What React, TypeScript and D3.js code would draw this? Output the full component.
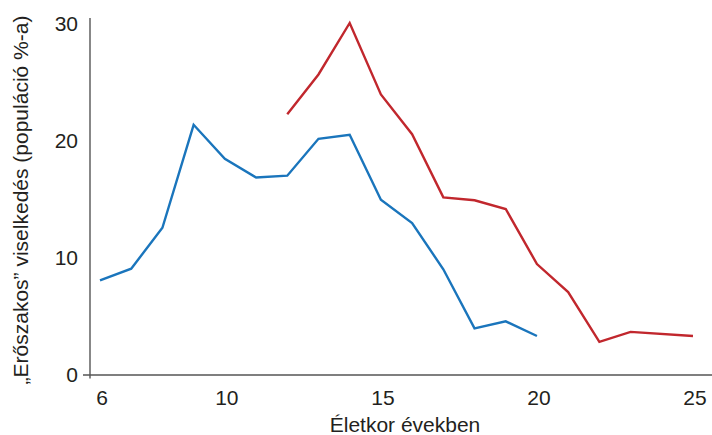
import React from "react";
import * as d3 from "d3";

const blueAges = [6, 7, 8, 9, 10, 11, 12, 13, 14, 15, 16, 17, 18, 19, 20];
const blueValues = [8.0, 9.0, 12.5, 21.3, 18.4, 16.8, 16.95, 20.1, 20.45, 14.9, 12.9, 8.95, 3.9, 4.5, 3.25];
const redAges = [12, 13, 14, 15, 16, 17, 18, 19, 20, 21, 22, 23, 25];
const redValues = [22.2, 25.6, 30.0, 23.9, 20.5, 15.1, 14.85, 14.1, 9.4, 7.0, 2.75, 3.6, 3.25];
const xTicks = [6, 10, 15, 20, 25];
const yTicks = [0, 10, 20, 30];
const xTitle = "Életkor években";
const yTitle = "„Erőszakos” viselkedés (populáció %-a)";

const W = 712;
const H = 435;

export default function App() {
  const x = d3.scaleLinear().domain([6, 25]).range([100, 693]);
  const y = d3.scaleLinear().domain([0, 30]).range([374, 23]);
  const line = d3
    .line<[number, number]>()
    .x((d) => x(d[0]))
    .y((d) => y(d[1]));
  const blue = blueAges.map((a, i) => [a, blueValues[i]] as [number, number]);
  const red = redAges.map((a, i) => [a, redValues[i]] as [number, number]);
  const font = "'Liberation Sans', Arial, sans-serif";
  const axisX = 90;
  return (
    <svg
      width={W}
      height={H}
      style={{ position: "absolute", left: 0, top: 0 }}
      fontFamily={font}
    >
      <rect width={W} height={H} fill="#fff" />
      <line x1={axisX} x2={axisX} y1={18} y2={378.5} stroke="#555" strokeWidth={1.4} />
      <line x1={83} x2={W} y1={y(0) + 1} y2={y(0) + 1} stroke="#555" strokeWidth={1.4} />
      {yTicks.map((t) => (
        <text
          key={t}
          x={78}
          y={y(t)}
          textAnchor="end"
          dominantBaseline="central"
          fontSize={21}
          fill="#231f20"
        >
          {t}
        </text>
      ))}
      {xTicks.map((t) => (
        <text key={t} x={x(t) + 2} y={405} textAnchor="middle" fontSize={21} fill="#231f20">
          {t}
        </text>
      ))}
      <text x={405} y={432} textAnchor="middle" fontSize={21} fill="#231f20">
        {xTitle}
      </text>
      <text
        transform={`translate(28,200) rotate(-90)`}
        textAnchor="middle"
        fontSize={21}
        fill="#231f20"
      >
        {yTitle}
      </text>
      <path d={line(blue) || ""} fill="none" stroke="#1a75bc" strokeWidth={2.4} strokeLinejoin="miter" />
      <path d={line(red) || ""} fill="none" stroke="#c1272d" strokeWidth={2.4} strokeLinejoin="miter" />
    </svg>
  );
}
